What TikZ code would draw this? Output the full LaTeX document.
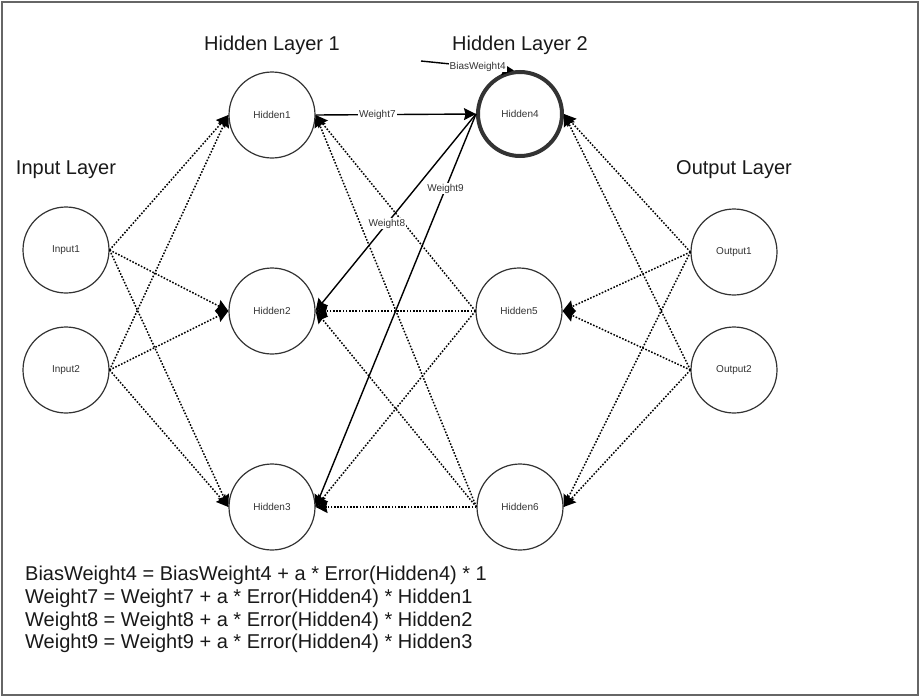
\documentclass[tikz,border=0pt]{standalone}
\usepackage{fontspec}
\setmainfont{Liberation Sans}
\usetikzlibrary{arrows.meta}
\definecolor{stroke}{HTML}{333333}
\begin{document}
\begin{tikzpicture}[x=1pt,y=-1pt,
  neuron/.style={circle, draw=stroke, line width=1.2pt, minimum size=86pt, inner sep=0pt,
    font=\fontsize{10}{12}\selectfont, text=stroke},
  heavy/.style={neuron, line width=4pt, minimum size=84pt},
  layer/.style={font=\fontsize{20}{24}\selectfont, text=black!90, inner sep=0pt},
  tip/.style={-{Stealth[length=12pt,width=12pt,inset=1.5pt]}},
  dotline/.style={tip, line width=1.5pt, dash pattern=on 1.6pt off 1.6pt},
  solidline/.style={tip, line width=1.4pt},
  wlabel/.style={fill=white, inner sep=1pt, font=\fontsize{10}{12}\selectfont, text=stroke}
]
\useasboundingbox (0,0) rectangle (923,699);
\draw[line width=2pt, draw=black!60] (2,2) rectangle (918,695);

% layer labels
\node[layer] (linput) at (66,170) {Input Layer};
\node[layer] (lh1) at (272,45) {Hidden Layer 1};
\node[layer] (lh2) at (520,45) {Hidden Layer 2};
\node[layer] (lout) at (734,170) {Output Layer};

% neurons
\node[neuron] (i1) at (66,250) {Input1};
\node[neuron] (i2) at (66,370) {Input2};
\node[neuron] (h1) at (272,115) {Hidden1};
\node[neuron] (h2) at (272,311) {Hidden2};
\node[neuron] (h3) at (272,507) {Hidden3};
\node[heavy]  (h4) at (520,114) {Hidden4};
\node[neuron] (h5) at (519,311) {Hidden5};
\node[neuron] (h6) at (520,507) {Hidden6};
\node[neuron] (o1) at (734,252) {Output1};
\node[neuron] (o2) at (734,370) {Output2};

% input -> hidden layer 1
\foreach \s in {i1,i2}{
  \foreach \t in {h1,h2,h3}{
    \draw[dotline] (\s.east) -- (\t.west);
  }
}
% output -> hidden layer 2
\foreach \s in {o1,o2}{
  \foreach \t in {h4,h5,h6}{
    \draw[dotline] (\s.west) -- (\t.east);
  }
}
% hidden5/6 -> hidden layer 1
\foreach \s in {h5,h6}{
  \foreach \t in {h1,h2,h3}{
    \draw[dotline] (\s.west) -- (\t.east);
  }
}

% weights of Hidden4
\draw[solidline] (h1.east) -- node[wlabel, pos=0.385] {Weight7} (h4.west);
\draw[solidline] (h4.west) -- node[wlabel, pos=0.556] {Weight8} (h2.east);
\draw[solidline] (h4.west) -- node[wlabel, pos=0.19] {Weight9} (h3.east);

% bias
\coordinate (bias) at (421,61);
\draw[solidline] (bias) -- node[wlabel, pos=0.61] {BiasWeight4} (h4.98);

% formulas
\node[anchor=north west, align=left, inner sep=0pt, text=black!90,
      font=\fontsize{20}{22.7}\selectfont] (formula) at (25,566)
  {BiasWeight4 = BiasWeight4 + a * Error(Hidden4) * 1\\
   Weight7 = Weight7 + a * Error(Hidden4) * Hidden1\\
   Weight8 = Weight8 + a * Error(Hidden4) * Hidden2\\
   Weight9 = Weight9 + a * Error(Hidden4) * Hidden3};
\end{tikzpicture}
\end{document}
